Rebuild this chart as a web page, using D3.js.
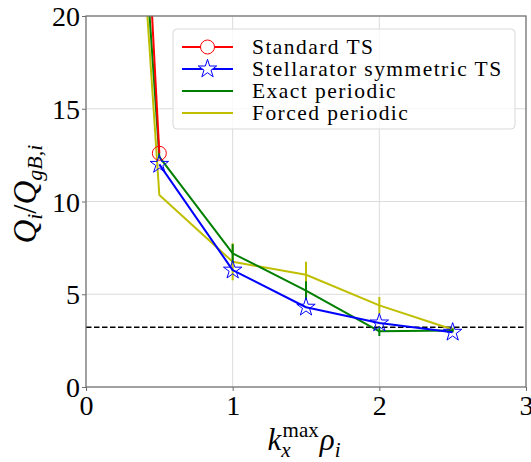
<!DOCTYPE html>
<html>
<head>
<meta charset="utf-8">
<script src="https://cdn.jsdelivr.net/npm/d3@7"></script>
<style>
  body { margin: 0; background: #fff; }
</style>
</head>
<body>
<svg id="chart" width="531" height="462"></svg>
<script>
// data
const standardX = [0.25, 0.5];
const standardY = [50, 12.6];

const stellX = [0.5, 1.0, 1.5, 2.0, 2.5];
const stellY = [12.0, 6.3, 4.3, 3.45, 2.95];

const exactX = [0.25, 0.5, 1.0, 1.5, 2.0, 2.5];
const exactY = [41, 12.4, 7.2, 5.2, 3.0, 3.05];
const exactErr = [0, 0, 0.5, 0.5, 0.25, 0.1];

const forcedX = [0.25, 0.5, 1.0, 1.5, 2.0, 2.5];
const forcedY = [40, 10.35, 6.75, 6.05, 4.4, 3.1];
const forcedErr = [0, 0, 1.0, 0.7, 0.45, 0.1];

const refLevel = 3.22;

const xTicks = [0, 1, 2, 3];
const yTicks = [0, 5, 10, 15, 20];

const legendLabels = ["Standard TS", "Stellarator symmetric TS", "Exact periodic", "Forced periodic"];

const SERIF = '"Liberation Serif"';

const svg = d3.select("#chart");
const margin = { left: 86, right: 5, top: 16, bottom: 75 };
const W = 531, H = 462;

const x = d3.scaleLinear().domain([0, 3]).range([margin.left, W - margin.right]);
const y = d3.scaleLinear().domain([0, 20]).range([H - margin.bottom, margin.top]);

svg.append("defs").append("clipPath").attr("id", "clip")
  .append("rect")
  .attr("x", x(0)).attr("y", y(20))
  .attr("width", x(3) - x(0)).attr("height", y(0) - y(20));

// grid
const grid = svg.append("g");
grid.selectAll(".gx").data(xTicks).join("line")
  .attr("x1", d => x(d)).attr("x2", d => x(d))
  .attr("y1", y(0)).attr("y2", y(20))
  .attr("stroke", "#dcdcdc").attr("stroke-width", 1);
grid.selectAll(".gy").data(yTicks).join("line")
  .attr("x1", x(0)).attr("x2", x(3))
  .attr("y1", d => y(d)).attr("y2", d => y(d))
  .attr("stroke", "#dcdcdc").attr("stroke-width", 1);

const plot = svg.append("g").attr("clip-path", "url(#clip)");

// reference dashed line
plot.append("line")
  .attr("x1", x(0)).attr("x2", x(3))
  .attr("y1", y(refLevel)).attr("y2", y(refLevel))
  .attr("stroke", "#000").attr("stroke-width", 1.5)
  .attr("stroke-dasharray", "5.5,2.5");

const line = d3.line().x(d => x(d[0])).y(d => y(d[1]));

function drawSeries(xs, ys, errs, color) {
  const pts = xs.map((v, i) => [v, ys[i], errs ? errs[i] : 0]);
  plot.append("g").selectAll("line").data(pts.filter(p => p[2] > 0))
    .join("line")
    .attr("x1", d => x(d[0])).attr("x2", d => x(d[0]))
    .attr("y1", d => y(d[1] - d[2])).attr("y2", d => y(d[1] + d[2]))
    .attr("stroke", color).attr("stroke-width", 2);
  plot.append("path").datum(pts)
    .attr("d", line)
    .attr("fill", "none").attr("stroke", color).attr("stroke-width", 2)
    .attr("stroke-linejoin", "round");
  return pts;
}

const starPath = d3.symbol().type(d3.symbolStar).size(105);

drawSeries(forcedX, forcedY, forcedErr, "#bfbf00");
drawSeries(exactX, exactY, exactErr, "#008000");
const redPts = drawSeries(standardX, standardY, null, "#ff0000");
const bluePts = drawSeries(stellX, stellY, null, "#0000ff");

plot.append("g").selectAll("circle").data(redPts).join("circle")
  .attr("cx", d => x(d[0])).attr("cy", d => y(d[1])).attr("r", 7)
  .attr("fill", "none").attr("stroke", "#ff0000").attr("stroke-width", 1);
plot.append("g").selectAll("path").data(bluePts).join("path")
  .attr("d", starPath)
  .attr("transform", d => `translate(${x(d[0])},${y(d[1])})`)
  .attr("fill", "none").attr("stroke", "#0000ff").attr("stroke-width", 1);

// axes
const axisColor = "#6e6e6e";
svg.append("rect")
  .attr("x", x(0)).attr("y", y(20))
  .attr("width", x(3) - x(0)).attr("height", y(0) - y(20))
  .attr("fill", "none").attr("stroke", axisColor).attr("stroke-width", 1.2);

const xAxis = svg.append("g").attr("transform", `translate(0,${y(0)})`)
  .call(d3.axisBottom(x).tickValues(xTicks).tickSize(4).tickFormat(d3.format("d")));
const yAxis = svg.append("g").attr("transform", `translate(${x(0)},0)`)
  .call(d3.axisLeft(y).tickValues(yTicks).tickSize(4).tickFormat(d3.format("d")));
[xAxis, yAxis].forEach(a => {
  a.select(".domain").remove();
  a.selectAll(".tick line").attr("stroke", axisColor);
  a.selectAll(".tick text").attr("font-size", 28).attr("fill", "#000")
    .style("font-family", SERIF);
});
xAxis.selectAll(".tick text").attr("dy", "0.9em").attr("y", 3);
yAxis.selectAll(".tick text").attr("x", -6).attr("dy", "0.34em");

// axis labels
const xl = svg.append("text")
  .attr("x", x(1.5) - 2).attr("y", 450)
  .attr("text-anchor", "middle").attr("font-size", 31)
  .style("font-family", SERIF);
xl.append("tspan").attr("font-style", "italic").text("k");
xl.append("tspan").attr("font-style", "italic").attr("font-size", 21).attr("dy", 7).text("x");
xl.append("tspan").attr("font-size", 21).attr("dy", -20).attr("dx", -8).text("max");
xl.append("tspan").attr("font-style", "italic").attr("dy", 13).attr("dx", 1).text("ρ");
xl.append("tspan").attr("font-style", "italic").attr("font-size", 21).attr("dy", 7).text("i");

const yl = svg.append("text")
  .attr("transform", `translate(36,${y(10.4)}) rotate(-90)`)
  .attr("text-anchor", "middle").attr("font-size", 33).attr("font-style", "italic")
  .style("font-family", SERIF);
yl.append("tspan").text("Q");
yl.append("tspan").attr("font-size", 22).attr("dy", 6).text("i");
yl.append("tspan").attr("dy", -6).attr("font-style", "normal").text("/");
yl.append("tspan").text("Q");
yl.append("tspan").attr("font-size", 22).attr("dy", 6).text("gB,i");

// legend
const lg = svg.append("g");
lg.append("rect")
  .attr("x", 173).attr("y", 29).attr("width", 342).attr("height", 100)
  .attr("rx", 4).attr("fill", "#fff").attr("fill-opacity", 0.8)
  .attr("stroke", "#d9d9d9").attr("stroke-width", 1);
const legColors = ["#ff0000", "#0000ff", "#008000", "#bfbf00"];
const rows = lg.selectAll("g.row").data(legendLabels).join("g")
  .attr("transform", (d, i) => `translate(0,${47 + i * 22})`);
rows.append("line")
  .attr("x1", 182).attr("x2", 233).attr("y1", 0).attr("y2", 0)
  .attr("stroke", (d, i) => legColors[i]).attr("stroke-width", 2);
rows.filter((d, i) => i === 0).append("circle")
  .attr("cx", 207.5).attr("cy", 0).attr("r", 7)
  .attr("fill", "#fff").attr("stroke", "#ff0000").attr("stroke-width", 1);
rows.filter((d, i) => i === 1).append("path")
  .attr("d", starPath).attr("transform", "translate(207.5,0)")
  .attr("fill", "#fff").attr("stroke", "#0000ff").attr("stroke-width", 1);
rows.append("text")
  .attr("x", 252).attr("y", 0).attr("dy", "0.32em")
  .attr("font-size", 21.5).attr("fill", "#000")
  .style("font-family", SERIF).style("letter-spacing", "1.45px")
  .text(d => d);
</script>
</body>
</html>
